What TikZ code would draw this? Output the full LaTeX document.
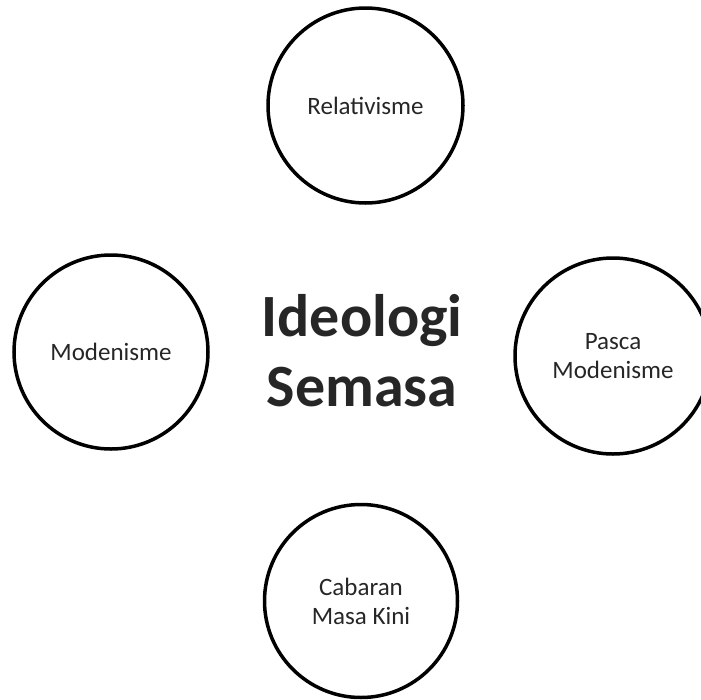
\documentclass[tikz,border=0pt]{standalone}
\usepackage{fontspec}
\setmainfont{Carlito}
\begin{document}
\begin{tikzpicture}[x=1pt,y=-1pt,
  topic/.style={circle,draw=black,line width=3.5pt,inner sep=0pt,
    align=center,font=\fontsize{25}{29}\selectfont,text=black!85},
  title/.style={align=center,font=\fontsize{60}{70}\selectfont\bfseries,text=black!85}]
\useasboundingbox (0,0) rectangle (701,699);
\node[topic,minimum size=195pt] (rel) at (365.5,105.5) {Relativisme};
\node[topic,minimum size=194pt] (mod) at (111,352) {Modenisme};
\node[topic,minimum size=196pt] (pasca) at (613,356) {Pasca\\Modenisme};
\node[topic,minimum size=193pt] (cab) at (361,601) {Cabaran\\Masa Kini};
\node[title] (ide) at (362,351) {Ideologi\\Semasa};
\end{tikzpicture}
\end{document}
